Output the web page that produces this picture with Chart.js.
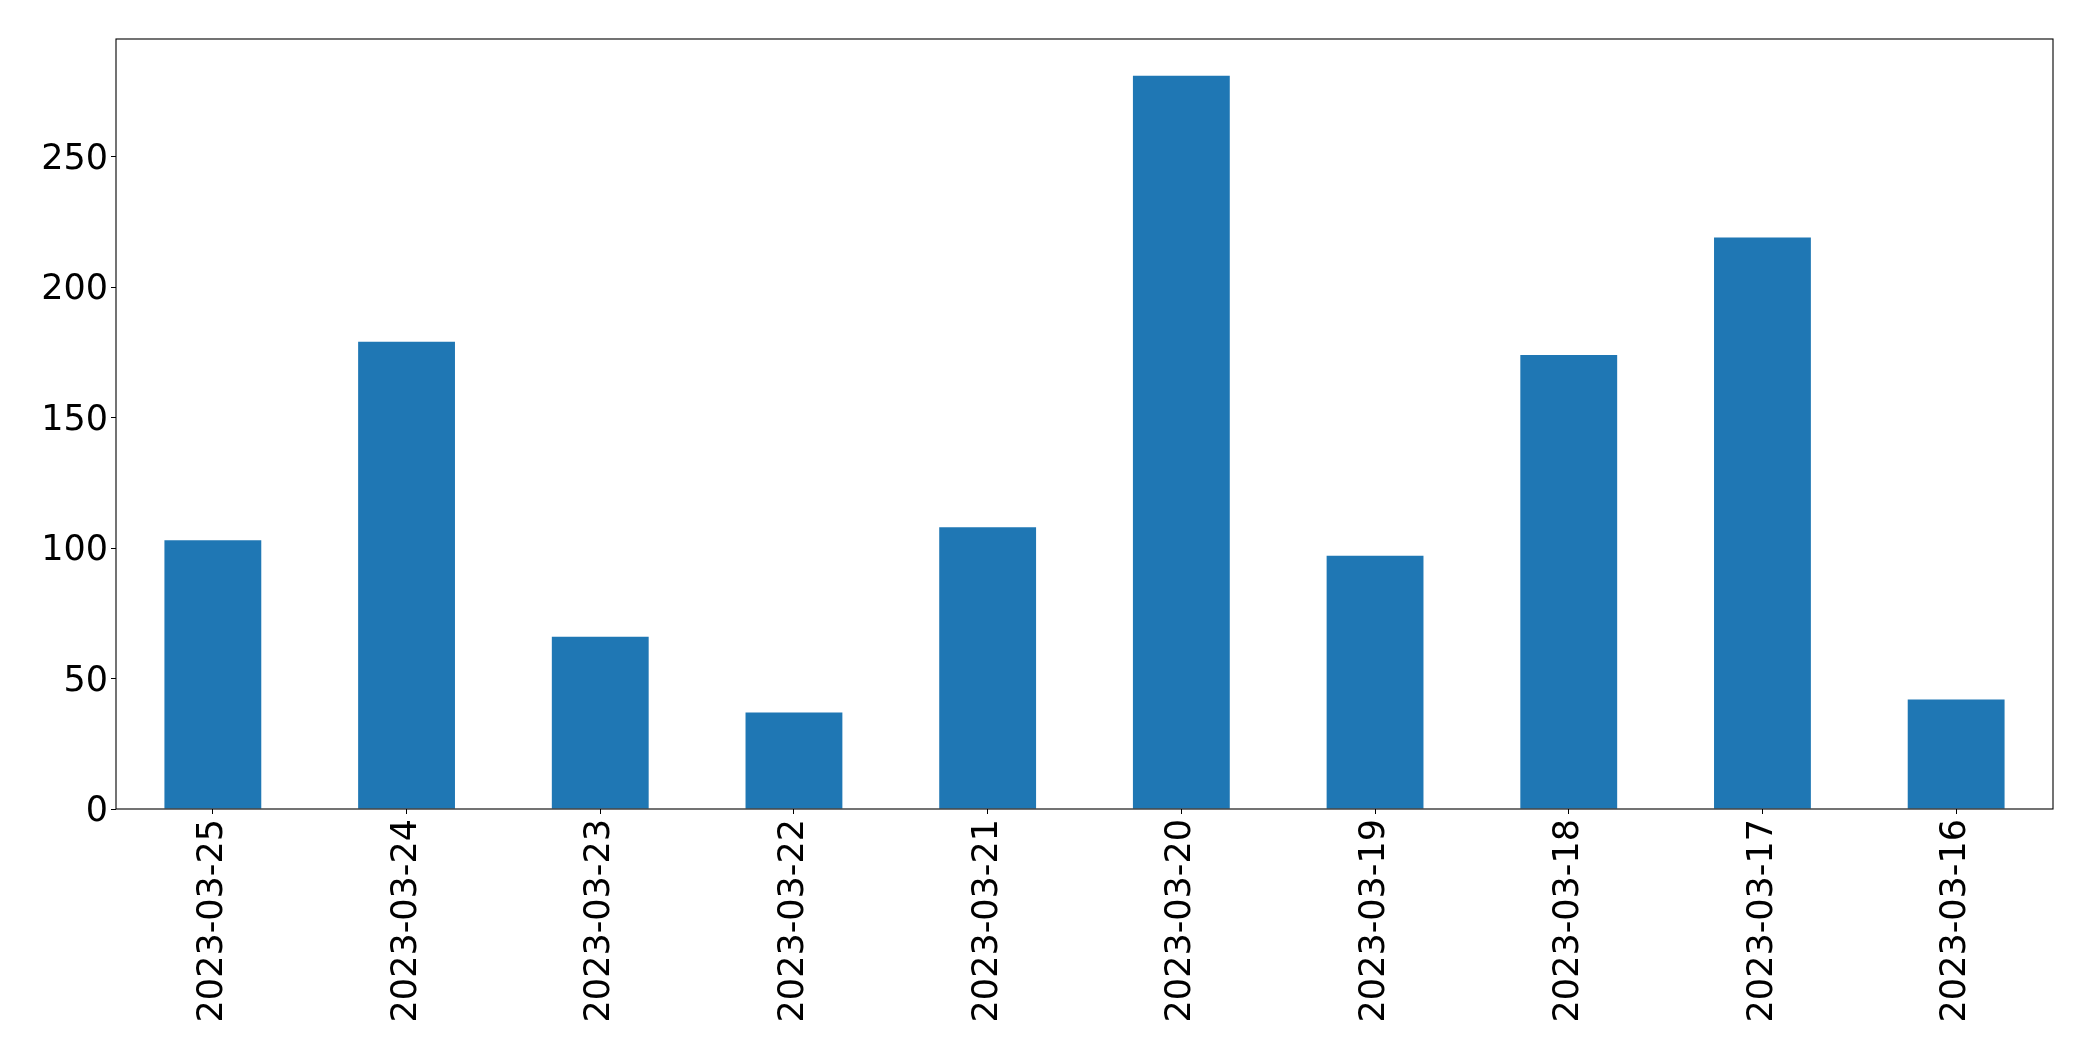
<!DOCTYPE html>
<html>
<head>
<meta charset="utf-8">
<title>Daily counts</title>
<script src="https://cdn.jsdelivr.net/npm/chart.js@4.4.0/dist/chart.umd.min.js"></script>
<style>
    html, body { margin: 0; padding: 0; background: #ffffff; }
    #wrap { width: 2093px; height: 1061px; }
</style>
</head>
<body>
<div id="wrap"><canvas id="counts" width="2093" height="1061"></canvas></div>
<script>
var dates = ['2023-03-25', '2023-03-24', '2023-03-23', '2023-03-22', '2023-03-21', '2023-03-20', '2023-03-19', '2023-03-18', '2023-03-17', '2023-03-16'];
var counts = [103, 179, 66, 37, 108, 281, 97, 174, 219, 42];
var yTicks = [0, 50, 100, 150, 200, 250];

window.addEventListener("load", function() {
    init();
});

function init() {
    renderCounts(dates, counts);
}

// box round the plot area, like the matplotlib frame
var frame = {
    id: 'frame',
    afterDraw: function(chart) {
        var a = chart.chartArea;
        var ctx = chart.ctx;
        ctx.save();
        ctx.strokeStyle = '#000000';
        ctx.lineWidth = 1.1;
        ctx.strokeRect(a.left, a.top, a.right - a.left, a.bottom - a.top);
        ctx.restore();
    }
};

function renderCounts(labels, values) {
    var ctx = document.getElementById('counts').getContext('2d');
    var top = Math.max.apply(null, values) * 1.05;
    new Chart(ctx, {
        type: 'bar',
        data: {
            labels: labels,
            datasets: [{
                label: '',
                backgroundColor: '#1f77b4',
                borderWidth: 0,
                data: values,
                barPercentage: 0.5,
                categoryPercentage: 1.0
            }]
        },
        options: {
            responsive: false,
            animation: false,
            layout: { padding: { top: 39, right: 40, left: 0, bottom: 0 } },
            plugins: {
                legend: { display: false },
                tooltip: { enabled: false }
            },
            scales: {
                x: {
                    offset: true,
                    grid: { display: true, drawOnChartArea: false, drawTicks: true, tickLength: 5, color: '#000000', offset: false },
                    border: { display: false },
                    ticks: {
                        color: '#000000',
                        font: { family: 'DejaVu Sans', size: 35 },
                        minRotation: 90,
                        maxRotation: 90,
                        padding: 5,
                        autoSkip: false
                    },
                    afterFit: function(scale) { scale.height = 252; }
                },
                y: {
                    min: 0,
                    max: top,
                    grid: { display: true, drawOnChartArea: false, drawTicks: true, tickLength: 5, color: '#000000' },
                    border: { display: false },
                    ticks: {
                        color: '#000000',
                        font: { family: 'DejaVu Sans', size: 35 },
                        padding: 3,
                        labelOffset: 3,
                        stepSize: 50
                    },
                    afterBuildTicks: function(scale) {
                        scale.ticks = yTicks.map(function(v) { return { value: v }; });
                    },
                    afterFit: function(scale) { scale.width = 116; }
                }
            }
        },
        plugins: [frame]
    });
}
</script>
</body>
</html>
